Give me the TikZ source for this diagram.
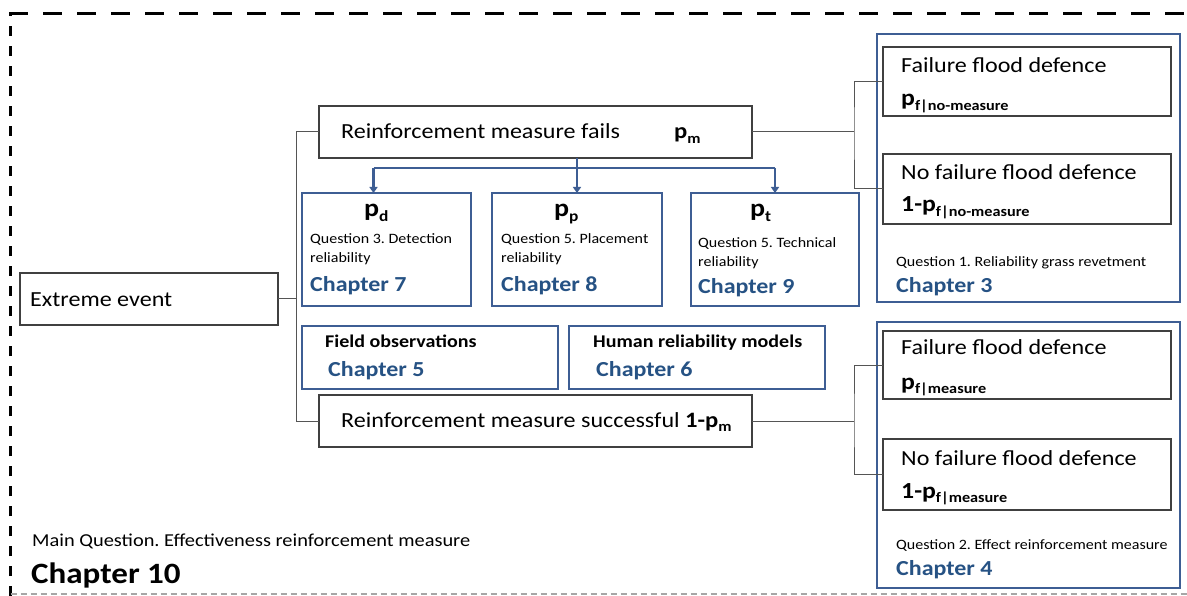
\documentclass[tikz,border=0pt]{standalone}
\usepackage{fontspec}
\setmainfont{Carlito}[FakeStretch=1.12]
\usetikzlibrary{arrows.meta}
\frenchspacing
\definecolor{boxblue}{RGB}{62,94,148}
\definecolor{chapblue}{RGB}{38,82,132}
\definecolor{linegray}{RGB}{85,85,85}
\newcommand{\fsz}[1]{\fontsize{#1}{#1}\selectfont}
\newcommand{\prob}[5]{{\fsz{#1}\bfseries #4p\raisebox{-#3pt}{\fsz{#2}\bfseries #5}}}
\newcommand{\bx}[6]{\node[#1, minimum width={#5-#3}, minimum height={#6-#4}] (#2) at ({(#3+#5)/2},{(#4+#6)/2}) {};}
\begin{document}
\begin{tikzpicture}[x=1pt,y=-1pt,
  blackbox/.style={draw=black!75, line width=1.1pt, fill=white, inner sep=0pt, outer sep=0pt},
  bluebox/.style={draw=boxblue, line width=2.8pt, fill=white, inner sep=0pt, outer sep=0pt},
  txt/.style={anchor=base west, inner sep=0pt, font=\fsz{21.5}},
  small/.style={anchor=base west, inner sep=0pt, font=\fsz{14.3}},
  chap/.style={anchor=base west, inner sep=0pt, font=\fsz{21.4}\bfseries, text=chapblue},
  conn/.style={draw=linegray, line width=1pt},
  bluearrow/.style={draw=boxblue, line width=2.4pt, -{Triangle[width=8pt,length=6pt]}}]
\useasboundingbox (0,0) rectangle (1187,596);
\fill[white] (0,0) rectangle (1187,596);
% dashed frame
\draw[line width=3pt, dash pattern=on 10pt off 10pt] (10.7,596) -- (10.7,14);
\draw[line width=3pt, dash pattern=on 19pt off 15pt] (9.2,14) -- (1187,14);
\draw[black!35, line width=1.5pt, dash pattern=on 6pt off 4pt] (10.7,594) -- (1187,594);

% outer blue boxes
\bx{bluebox}{ch3}{877}{34}{1180}{302}
\bx{bluebox}{ch4}{877}{322}{1180}{588}
% left side boxes
\bx{blackbox}{ext}{20}{273}{278}{325}
\bx{blackbox}{fails}{319}{106}{752}{158}
\bx{blackbox}{succ}{319}{395}{752}{447}
\bx{bluebox}{pd}{302}{193}{471}{306}
\bx{bluebox}{pp}{492}{193}{662}{306}
\bx{bluebox}{pt}{691}{193}{859}{306}
\bx{bluebox}{field}{302}{326}{558}{389}
\bx{bluebox}{human}{569}{326}{825}{389}
% inner black boxes
\bx{blackbox}{f1}{883}{47}{1171}{116}
\bx{blackbox}{n1}{883}{154}{1171}{224}
\bx{blackbox}{f2}{883}{331}{1171}{399}
\bx{blackbox}{n2}{883}{439}{1171}{510}

% connectors
\coordinate (j1) at (296.6,299);
\coordinate (j2) at (854,132);
\coordinate (j3) at (854,421);
\draw[conn] (ext.east) -- (j1);
\draw[conn] (fails.west) -| (j1) |- (succ.west);
\draw[conn] (fails.east) -- (j2);
\draw[conn] (f1.west) -| (j2) |- (n1.west);
\draw[conn] (succ.east) -- (j3);
\draw[conn] (f2.west) -| (j3) |- (n2.west);

% blue arrows
\coordinate (bus) at (0,168);
\draw[draw=boxblue, line width=2.4pt] (fails.south -| pp.north) -- (bus -| pp.north);
\draw[draw=boxblue, line width=2.4pt] ([xshift=-13pt]bus -| pd.north) -- (bus -| pt.north);
\draw[bluearrow] ([xshift=-13pt]bus -| pd.north) -- ([xshift=-13pt]pd.north);
\draw[bluearrow] (bus -| pp.north) -- (pp.north);
\draw[bluearrow] (bus -| pt.north) -- (pt.north);

% texts
\node[txt] (t-ext) at (30,306) {Extreme event};
\node[txt] (t-fails) at (341,139) {Reinforcement measure fails};
\node[anchor=base west, inner sep=0pt] (t-pm) at (674,139) {\prob{22}{14.5}{4.5}{}{m}};
\node[txt] (t-succ) at (341,427) {Reinforcement measure successful \prob{22}{14.5}{4.5}{1-}{m}};

\node[anchor=base west, inner sep=0pt] (t-pd) at (364,217) {\prob{25}{15.5}{4.5}{}{d}};
\node[small] (q3a) at (310,244) {Question 3. Detection};
\node[small] (q3b) at (310,263) {reliability};
\node[chap] (c7) at (310,291) {Chapter 7};

\node[anchor=base west, inner sep=0pt] (t-pp) at (554,217) {\prob{25}{15.5}{4.5}{}{p}};
\node[small] (q5a) at (501,244) {Question 5. Placement};
\node[small] (q5b) at (501,263) {reliability};
\node[chap] (c8) at (501,291) {Chapter 8};

\node[anchor=base west, inner sep=0pt] (t-pt) at (750,217) {\prob{25}{15.5}{4.5}{}{t}};
\node[small] (q5c) at (698,248) {Question 5. Technical};
\node[small] (q5d) at (698,267) {reliability};
\node[chap] (c9) at (698,294) {Chapter 9};

\node[anchor=base west, inner sep=0pt, font=\fsz{17.9}\bfseries] (t-field) at (325,347) {Field observations};
\node[chap] (c5) at (328,376) {Chapter 5};
\node[anchor=base west, inner sep=0pt, font=\fsz{17.9}\bfseries] (t-human) at (593,347) {Human reliability models};
\node[chap] (c6) at (596,376) {Chapter 6};

\node[txt] (t-f1) at (901,73) {Failure flood defence};
\node[anchor=base west, inner sep=0pt] (t-pf1) at (901,106) {\prob{23}{14.5}{4.5}{}{f|no-measure}};
\node[txt] (t-n1) at (901,180) {No failure flood defence};
\node[anchor=base west, inner sep=0pt] (t-pn1) at (901,212) {\prob{23}{14.5}{4.5}{1-}{f|no-measure}};
\node[small] (q1) at (896,267) {Question 1. Reliability grass revetment};
\node[chap] (c3) at (896,293) {Chapter 3};

\node[txt] (t-f2) at (901,355) {Failure flood defence};
\node[anchor=base west, inner sep=0pt] (t-pf2) at (901,389) {\prob{23}{14.5}{4.5}{}{f|measure}};
\node[txt] (t-n2) at (901,465) {No failure flood defence};
\node[anchor=base west, inner sep=0pt] (t-pn2) at (901,498) {\prob{23}{14.5}{4.5}{1-}{f|measure}};
\node[small] (q2) at (896,549) {Question 2. Effect reinforcement measure};
\node[chap] (c4) at (896,575) {Chapter 4};

\node[anchor=base west, inner sep=0pt, font=\fsz{18.2}] (mq) at (32,546) {Main Question. Effectiveness reinforcement measure};
\node[anchor=base west, inner sep=0pt, font=\fsz{29.5}\bfseries] (c10) at (31,583) {Chapter 10};
\end{tikzpicture}
\end{document}
